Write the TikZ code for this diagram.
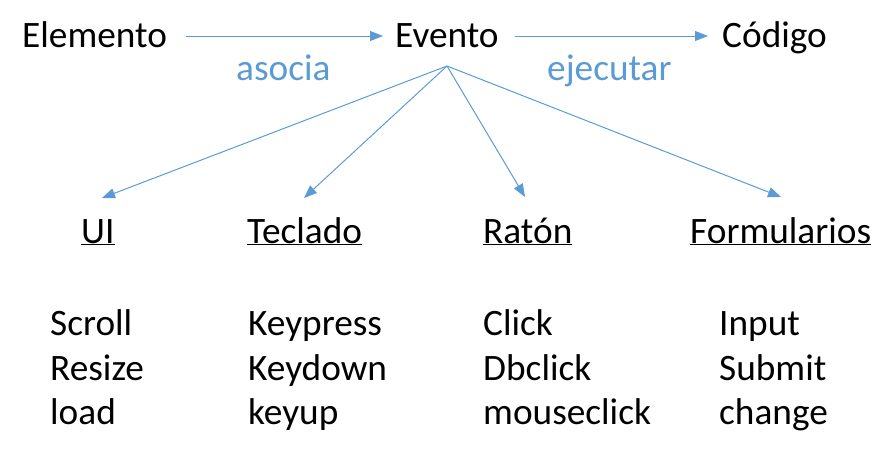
\documentclass[tikz,border=0pt]{standalone}
\usepackage{fontspec}
\setmainfont{Carlito}
\usetikzlibrary{arrows.meta}
\definecolor{officeblue}{HTML}{5B9BD5}
\begin{document}
\begin{tikzpicture}[x=1pt,y=-1pt,
  txt/.style={anchor=base west,inner sep=0pt,font=\fontsize{37.3}{44}\selectfont},
  lbl/.style={txt,text=officeblue},
  conn/.style={draw=officeblue,line width=1pt,-{Triangle[length=13pt,width=10pt]}}]
\useasboundingbox (0,0) rectangle (893,458);
% top row
\node[txt] (elem) at (22,47) {Elemento};
\node[txt] (evt) at (395,47) {Evento};
\node[txt] (cod) at (722,47) {Código};
\node[lbl] (asoc) at (236,80) {asocia};
\node[lbl] (ejec) at (547,80) {ejecutar};
\coordinate (a1s) at (186,36);
\coordinate (a1e) at (383,36);
\coordinate (a2s) at (515,36);
\coordinate (a2e) at (708,36);
\draw[conn] (a1s) -- (a1e);
\draw[conn] (a2s) -- (a2e);
% fan
\coordinate (fan) at (447,66);
\coordinate (tUI) at (102,198);
\coordinate (tTec) at (304,198);
\coordinate (tRat) at (525,197);
\coordinate (tFor) at (781,197);
\draw[conn] (fan) -- (tUI);
\draw[conn] (fan) -- (tTec);
\draw[conn] (fan) -- (tRat);
\draw[conn] (fan) -- (tFor);
% headers
\node[txt] (ui) at (81,243) {\underline{UI}};
\node[txt] (tec) at (247,243) {\underline{Teclado}};
\node[txt] (rat) at (483,243) {\underline{Ratón}};
\node[txt] (for) at (690,243) {\underline{Formularios}};
% lists
\node[txt] (u1) at (50,335) {Scroll};
\node[txt] (u2) at (50,380) {Resize};
\node[txt] (u3) at (50,424) {load};
\node[txt] (k1) at (248,335) {Keypress};
\node[txt] (k2) at (248,380) {Keydown};
\node[txt] (k3) at (248,424) {keyup};
\node[txt] (r1) at (483,335) {Click};
\node[txt] (r2) at (483,380) {Dbclick};
\node[txt] (r3) at (483,424) {mouseclick};
\node[txt] (f1) at (719,335) {Input};
\node[txt] (f2) at (719,380) {Submit};
\node[txt] (f3) at (719,424) {change};
\end{tikzpicture}
\end{document}
